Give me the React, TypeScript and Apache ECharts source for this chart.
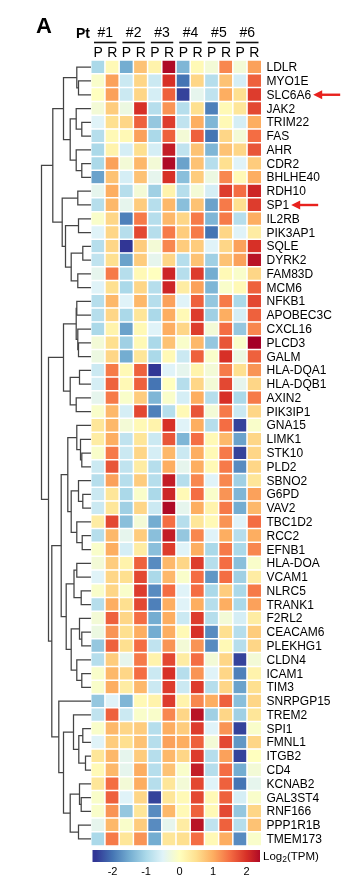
import { useEffect, useRef } from 'react';
import * as echarts from 'echarts';

const genes = ['LDLR','MYO1E','SLC6A6','JAK2','TRIM22','FAS','AHR','CDR2','BHLHE40','RDH10','SP1','IL2RB','PIK3AP1','SQLE','DYRK2','FAM83D','MCM6','NFKB1','APOBEC3C','CXCL16','PLCD3','GALM','HLA-DQA1','HLA-DQB1','AXIN2','PIK3IP1','GNA15','LIMK1','STK10','PLD2','SBNO2','G6PD','VAV2','TBC1D2','RCC2','EFNB1','HLA-DOA','VCAM1','NLRC5','TRANK1','F2RL2','CEACAM6','PLEKHG1','CLDN4','ICAM1','TIM3','SNRPGP15','TREM2','SPI1','FMNL1','ITGB2','CD4','KCNAB2','GAL3ST4','RNF166','PPP1R1B','TMEM173'];
const samples = ['P','R','P','R','P','R','P','R','P','R','P','R'];
const patients = ['#1','#2','#3','#4','#5','#6'];
const highlighted = ['SLC6A6','SP1'];

// log2(TPM) z-scores, one array per sample column, rows in gene order
const pt1P = [-1.0,-0.1,0.0,-0.2,-0.5,-0.9,-1.0,-1.0,-1.6,-0.4,-0.9,-0.1,-0.5,-0.9,-0.8,-0.4,-0.5,-0.9,-0.9,-1.0,-0.2,-0.3,-0.7,-0.6,-0.4,-0.1,0.4,0.3,-0.1,-0.7,-0.9,-0.7,-0.7,0.3,-0.9,-0.1,-0.2,-0.5,-0.1,-0.9,-0.2,-0.3,-1.2,-0.9,-0.1,-0.1,-1.2,-0.8,-0.1,-0.5,0.4,0.1,0.4,-0.1,-0.1,-0.4,-1.0];
const pt1R = [0.1,1.1,1.1,0.7,0.5,0.1,0.2,1.1,0.8,1.0,0.9,0.6,0.6,0.6,0.5,1.4,0.5,0.9,0.6,0.2,0.5,0.6,1.4,1.6,1.4,0.9,0.9,1.0,1.4,1.7,1.1,0.4,0.4,1.8,0.9,1.0,0.7,0.6,0.6,1.0,1.6,1.2,1.6,0.7,0.9,1.0,-0.5,1.6,0.9,0.7,0.9,0.9,1.5,1.6,1.2,0.9,1.4];
const pt2P = [-1.5,-0.7,-0.7,-0.3,0.6,0.1,-0.6,-0.2,-0.6,-0.9,-0.4,-1.9,-0.9,-2.5,-1.6,-0.9,-1.0,-0.5,-1.0,-1.6,-1.1,-1.5,0.1,0.1,-0.1,-0.6,-0.2,-0.8,-0.7,-0.8,-0.9,-1.0,-1.1,-1.3,-0.4,-0.6,0.2,0.5,-0.1,0.5,0.6,0.5,0.5,-0.4,0.6,0.3,-1.4,-0.7,0.6,0.5,-0.4,-0.4,-0.2,-0.5,-1.2,-0.1,0.4];
const pt2R = [0.8,0.6,0.6,2.0,1.6,1.1,0.5,0.9,0.8,-0.2,0.7,1.4,1.8,0.7,0.7,0.1,0.6,0.9,0.4,0.1,0.1,0.4,1.6,1.6,0.7,1.8,0.1,0.4,0.6,0.3,0.7,-0.1,0.6,-0.2,0.7,0.3,1.6,1.8,1.9,1.8,1.5,1.0,1.5,1.4,1.5,0.9,0.1,-0.1,0.7,0.8,0.7,1.0,1.0,0.6,0.4,0.7,1.2];
const pt3P = [0.2,-0.7,-0.6,-0.9,-1.2,-1.0,-0.6,-0.2,-0.4,-1.1,-0.9,-0.9,-0.9,-0.2,-0.4,0.0,-0.9,-0.9,-1.0,-0.5,-1.0,-1.0,-2.5,-2.0,-1.4,-1.9,0.2,-0.7,-0.6,-0.9,-0.9,-1.0,-0.7,-1.5,-1.3,-1.3,-1.8,-1.0,-1.8,-1.9,-1.5,-1.5,-0.8,0.2,-0.7,-0.7,0.2,-0.1,-0.9,-0.9,-0.9,-0.9,-0.9,-2.4,-1.8,-1.8,-1.5];
const pt3R = [2.4,2.0,1.6,1.2,1.9,1.6,2.2,2.4,2.0,0.2,0.9,0.9,1.4,1.3,0.6,2.1,2.1,1.1,1.0,1.0,0.8,0.1,-0.5,0.0,-0.1,-0.9,2.0,1.7,0.9,1.0,2.2,2.1,2.4,1.5,2.2,1.9,0.9,0.9,1.5,1.0,1.0,1.0,1.2,1.8,2.0,1.9,1.9,1.3,1.0,1.1,0.9,0.8,0.4,0.4,0.9,-0.4,0.4];
const pt4P = [-1.4,-2.0,-2.4,-0.9,-0.8,-0.2,-0.8,-1.6,-1.3,-0.9,-1.3,0.6,0.7,0.7,-0.9,-0.9,0.3,-0.5,0.1,0.6,-0.1,-0.7,-0.4,-0.9,-0.6,0.1,-0.5,-1.4,-0.7,-0.4,-0.9,0.1,-0.4,-0.9,-1.2,-0.5,0.6,-0.1,-0.5,-0.5,-0.7,0.1,-0.2,0.3,-0.9,-0.7,0.2,0.6,0.7,1.0,0.6,-0.1,-0.2,0.1,0.1,0.3,0.5];
const pt4R = [0.1,0.6,-0.4,0.5,1.0,1.6,0.8,0.8,0.7,-0.2,0.8,1.4,1.4,0.7,0.8,1.9,1.1,1.6,1.9,1.9,0.9,1.6,0.2,0.6,1.0,1.7,1.0,1.5,1.0,1.0,1.3,1.5,1.0,0.4,1.3,1.0,1.9,1.5,1.5,1.0,1.9,2.0,1.2,1.5,1.2,1.9,1.3,2.3,1.9,1.6,1.9,2.2,1.8,1.8,1.6,2.3,1.5];
const pt5P = [-0.2,-0.9,-0.8,-1.9,-1.4,-2.0,-1.4,-0.9,-0.3,-0.6,-1.6,-1.4,-2.0,-0.5,-1.1,-1.5,-1.4,-1.2,-1.1,-0.2,-1.2,-0.1,-0.2,-0.2,-0.9,-0.2,-0.9,0.1,0.1,0.1,-0.5,-0.1,0.2,0.1,-0.5,-1.0,-0.9,-1.7,-1.0,-0.9,-0.9,-1.8,-1.8,-0.2,-0.5,-0.9,1.0,-1.1,-0.5,-0.2,-0.9,-0.9,-0.5,0.1,0.1,-0.8,0.1];
const pt5R = [1.3,0.8,1.0,0.1,0.1,0.6,0.8,0.5,1.3,1.9,1.4,1.4,0.6,0.6,0.8,0.1,-0.1,1.4,1.0,1.5,1.7,2.0,1.4,1.8,2.0,1.4,1.5,0.9,1.4,1.4,1.3,1.2,1.4,1.2,1.0,1.4,1.5,1.5,0.7,1.0,-0.2,0.5,0.1,0.6,0.6,0.6,1.6,0.6,1.2,1.8,1.1,1.5,1.6,1.6,1.8,1.6,1.0];
const pt6P = [-0.2,-0.6,0.5,0.4,-0.6,-0.2,0.6,-0.5,0.1,1.5,0.5,-0.9,-0.5,1.1,1.1,-0.1,0.1,-1.0,-0.6,-1.2,-0.1,-0.3,0.5,-0.4,-1.0,-0.7,-2.4,-1.6,-2.4,-1.8,-1.1,-1.4,-1.5,-0.5,-0.9,-1.0,-1.3,-1.1,-1.0,-1.0,-0.6,-0.9,-0.9,-2.4,-1.9,-1.6,-1.3,-1.1,-2.4,-1.7,-2.4,-1.5,-2.0,-0.6,-1.2,-0.9,-1.8];
const pt6R = [1.1,1.6,1.9,1.8,1.0,1.5,1.7,0.7,1.0,2.1,1.9,1.0,0.3,2.0,2.3,0.6,1.6,1.8,1.6,1.3,2.5,1.6,1.2,0.6,1.4,0.6,-0.1,0.6,0.6,0.6,0.4,1.1,0.9,1.5,1.0,1.3,-0.1,0.3,1.4,1.1,0.3,0.7,0.6,-0.2,0.2,0.5,0.6,0.4,-0.1,0.6,0.0,-0.2,-0.4,-0.1,0.6,0.8,-0.1];
const columns = [pt1P, pt1R, pt2P, pt2R, pt3P, pt3R, pt4P, pt4R, pt5P, pt5R, pt6P, pt6R];

// hierarchical clustering merges: [childA, childB, height]; leaves 0..56, merged nodes numbered from 57
const merges: [number, number, number][] = [
  [1,2,12.5],[0,57,14.2],[4,5,9.2],[3,59,14.8],[7,8,9.2],[6,61,14.8],[60,62,20.8],[58,63,27.5],
  [9,10,13.2],[11,12,12.5],[13,14,8.2],[15,16,13.2],[67,68,19.8],[66,69,25.5],[65,70,28.8],[64,71,38.2],
  [17,18,14.2],[20,21,12.5],[19,74,13.2],[73,75,14.8],[22,23,11.5],[24,25,14.8],[77,78,20.8],[76,79,27.5],
  [28,29,9.2],[27,81,10.5],[26,82,14.2],[31,32,8.2],[30,84,12.5],[34,35,8.8],[33,86,14.2],[85,87,19.8],[83,88,23.2],
  [36,37,14.2],[38,39,9.8],[90,91,17],[41,42,9.2],[40,93,11.5],[44,45,9.2],[43,95,14.2],[94,96,19.8],[92,97,24.8],[89,98,29.8],
  [48,49,8.2],[50,51,5.5],[100,101,12.2],[47,102,17.5],[53,54,9.8],[52,104,11.5],[55,56,12.5],[105,106,20.8],[103,107,27.5],[46,108,32.2],
  [99,109,39.2],[80,110,42.5],[72,111,49.5]
];

const colorTicks = [-2, -1, 0, 1, 2];
const scaleMin = -2.6;
const scaleMax = 2.4;
const palette = ['#313695','#4575b4','#74add1','#abd9e9','#e0f3f8','#ffffbf','#fee090','#fdae61','#f46d43','#d73027','#a50026'];
const paletteMin = -2.5;
const paletteMax = 2.5;

const FONT = "'Liberation Sans', Arial, Helvetica, sans-serif";
const GENE_FONT_SIZE = 12;
const HM_LEFT = 91;
const HM_TOP = 60.3;
const HM_W = 170.5;
const HM_H = 785.5;

export default function App() {
  const ref = useRef<HTMLDivElement>(null);
  useEffect(() => {
    if (!ref.current) return;
    const chart = echarts.init(ref.current, null, { renderer: 'svg' });

    const heatData: number[][] = [];
    columns.forEach((col, c) => col.forEach((v, r) => heatData.push([c, r, v])));

    const nodeY: number[] = genes.map((_, i) => i);
    const nodeH: number[] = genes.map(() => 0);
    const segs = merges.map(([a, b, h]) => {
      const s = [nodeH[a], nodeY[a], h, nodeY[b], nodeH[b]];
      nodeY.push((nodeY[a] + nodeY[b]) / 2);
      nodeH.push(h);
      return s;
    });

    const norm = (v: number) => Math.min(1, Math.max(0, (v - paletteMin) / (paletteMax - paletteMin)));
    const stops: { offset: number; color: string }[] = [];
    stops.push({ offset: 0, color: echarts.color.lerp(norm(scaleMin), palette) as string });
    palette.forEach((c, i) => {
      const v = paletteMin + (i * (paletteMax - paletteMin)) / (palette.length - 1);
      const off = (v - scaleMin) / (scaleMax - scaleMin);
      if (off > 0 && off < 1) stops.push({ offset: off, color: c });
    });
    stops.push({ offset: 1, color: echarts.color.lerp(norm(scaleMax), palette) as string });

    const colW = HM_W / samples.length;
    const graphics: any[] = [
      { type: 'text', left: 36, top: 14, style: { text: 'A', font: `bold 22px ${FONT}`, fill: '#000' } },
      { type: 'text', x: 76, y: 33, style: { text: 'Pt', font: `bold 14px ${FONT}`, fill: '#000', verticalAlign: 'middle' } },
      { type: 'text', x: 263, y: 856, style: {
        text: '{a|Log}{s|2}{a|(TPM)}', verticalAlign: 'middle',
        rich: { a: { font: `11.5px ${FONT}`, fill: '#000' }, s: { font: `8.5px ${FONT}`, fill: '#000', padding: [5, 0, 0, 0] } } } },
    ];
    patients.forEach((_, k) => {
      const x0 = HM_LEFT + k * 2 * colW + 3;
      const x1 = HM_LEFT + (k + 1) * 2 * colW - 3;
      graphics.push({ type: 'line', shape: { x1: x0, y1: 42.5, x2: x1, y2: 42.5 }, style: { stroke: '#111', lineWidth: 1.6 } });
    });

    chart.setOption({
      animation: false,
      textStyle: { fontFamily: FONT },
      grid: [
        { left: HM_LEFT, top: HM_TOP, width: HM_W, height: HM_H },
        { left: 0, top: HM_TOP, width: HM_LEFT, height: HM_H },
        { left: 92.5, top: 850, width: 167.5, height: 12 },
      ],
      xAxis: [
        { type: 'category', gridIndex: 0, data: samples, position: 'top', axisLine: { show: false }, axisTick: { show: false },
          axisLabel: { fontSize: 14, color: '#000', margin: 1, interval: 0 } },
        { type: 'category', gridIndex: 0, data: patients, position: 'top', offset: 19, axisLine: { show: false }, axisTick: { show: false },
          axisLabel: { fontSize: 14, color: '#000', margin: 2, interval: 0 } },
        { type: 'value', gridIndex: 1, min: 0, max: HM_LEFT, inverse: true, show: false },
        { type: 'value', gridIndex: 2, min: scaleMin, max: scaleMax, axisLine: { show: false }, axisTick: { show: false }, splitLine: { show: false },
          axisLabel: { customValues: colorTicks, fontSize: 11, color: '#000', margin: 3 } },
      ],
      yAxis: [
        { type: 'category', gridIndex: 0, data: genes, inverse: true, position: 'right', axisLine: { show: false }, axisTick: { show: false },
          axisLabel: { fontSize: GENE_FONT_SIZE, color: '#000', margin: 5, interval: 0 } },
        { type: 'value', gridIndex: 1, min: -0.5, max: genes.length - 0.5, inverse: true, show: false },
        { type: 'value', gridIndex: 2, min: 0, max: 1, show: false },
      ],
      visualMap: { type: 'continuous', show: false, min: paletteMin, max: paletteMax, seriesIndex: 0, inRange: { color: palette } },
      series: [
        { type: 'heatmap', xAxisIndex: 0, yAxisIndex: 0, data: heatData, itemStyle: { borderColor: '#fff', borderWidth: 1.5 }, emphasis: { disabled: true } },
        { type: 'custom', xAxisIndex: 2, yAxisIndex: 1, data: segs, encode: { x: [0, 2, 4], y: [1, 3] }, silent: true,
          renderItem: (_p: any, api: any) => {
            const pts = [
              [api.value(0), api.value(1)], [api.value(2), api.value(1)],
              [api.value(2), api.value(3)], [api.value(4), api.value(3)],
            ].map((p) => api.coord(p));
            return { type: 'polyline', shape: { points: pts }, style: { stroke: '#444', lineWidth: 1.25, fill: 'none' } };
          } },
        { type: 'custom', xAxisIndex: 3, yAxisIndex: 2, data: [[scaleMin, scaleMax]], encode: { x: [0, 1] }, silent: true,
          renderItem: (_p: any, api: any) => {
            const p0 = api.coord([api.value(0), 1]);
            const p1 = api.coord([api.value(1), 0]);
            return { type: 'rect', shape: { x: p0[0], y: p0[1], width: p1[0] - p0[0], height: p1[1] - p0[1] },
              style: { fill: new echarts.graphic.LinearGradient(0, 0, 1, 0, stops) } };
          } },
      ],
      graphic: graphics,
    });

    // red arrows after highlighted gene labels
    const canvas = document.createElement('canvas');
    const ctx = canvas.getContext('2d');
    if (ctx) ctx.font = `${GENE_FONT_SIZE}px ${FONT}`;
    const arrows: any[] = [];
    highlighted.forEach((g) => {
      const y = chart.convertToPixel({ yAxisIndex: 0 }, g) as number;
      const w = ctx ? ctx.measureText(g).width : 40;
      const tip = HM_LEFT + HM_W + 5 + w + 2;
      arrows.push({ type: 'line', shape: { x1: tip + 6, y1: y, x2: tip + 27, y2: y }, style: { stroke: '#e8211d', lineWidth: 2.4 } });
      arrows.push({ type: 'polygon', shape: { points: [[tip, y], [tip + 9, y - 4.5], [tip + 9, y + 4.5]] }, style: { fill: '#e8211d' } });
    });
    chart.setOption({ graphic: graphics.concat(arrows) }, { replaceMerge: ['graphic'] });

    return () => chart.dispose();
  }, []);
  return <div ref={ref} style={{ position: 'fixed', left: 0, top: 0, width: 345, height: 882 }} />;
}
